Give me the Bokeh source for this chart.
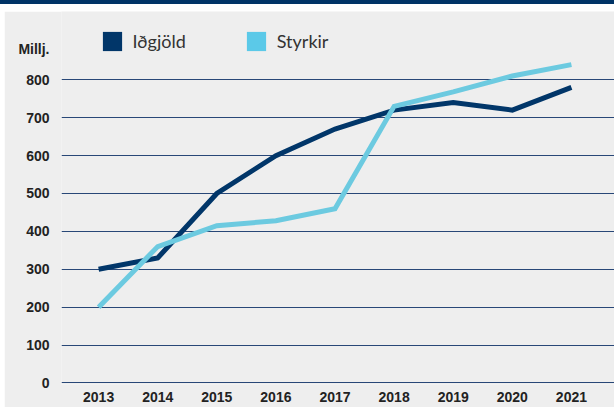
from bokeh.plotting import figure
from bokeh.models import Range1d, FixedTicker, Legend, LegendItem, Div, Spacer
from bokeh.layouts import column, row
from bokeh.embed import file_html
from bokeh.resources import INLINE

years = [2013, 2014, 2015, 2016, 2017, 2018, 2019, 2020, 2021]
idgjold = [300, 330, 500, 600, 670, 720, 740, 720, 780]
styrkir = [200, 360, 415, 428, 460, 730, 768, 810, 840]
y_ticks = [0, 100, 200, 300, 400, 500, 600, 700, 800]
unit_label = "Millj."
unit_pos = 882
series_names = ["Iðgjöld", "Styrkir"]

NAVY = "#013669"
LIGHT_LINE = "#6ccae0"
LIGHT_KEY = "#5bc9e8"
BG = "#eeeeee"

p = figure(width=610, height=396, output_backend="svg", toolbar_location=None,
           x_range=Range1d(2012.372, 2021.729), y_range=Range1d(-3.96, 980.2),
           background_fill_color=BG, border_fill_color=BG,
           min_border_left=57, min_border_right=0, min_border_top=0, min_border_bottom=23)
p.outline_line_color = None

# axes
p.xaxis.ticker = FixedTicker(ticks=years)
p.yaxis.ticker = FixedTicker(ticks=y_ticks + [unit_pos])
p.yaxis.major_label_overrides = {unit_pos: unit_label}
for ax in (p.xaxis[0], p.yaxis[0]):
    ax.axis_line_color = None
    ax.major_tick_line_color = None
    ax.minor_tick_line_color = None
    ax.major_tick_out = 0
    ax.major_tick_in = 0
    ax.major_label_text_font = "Liberation Sans"
    ax.major_label_text_font_style = "bold"
    ax.major_label_text_font_size = "14px"
    ax.major_label_text_color = "#222222"
p.xaxis.major_label_standoff = 7
p.yaxis.major_label_standoff = 12

p.xgrid.grid_line_color = None
p.ygrid.ticker = FixedTicker(ticks=y_ticks)
p.ygrid.grid_line_color = "#284777"
p.ygrid.grid_line_width = 1.2

# lines
p.line(years, idgjold, line_color=NAVY, line_width=5, line_join="miter")
p.line(years, styrkir, line_color=LIGHT_LINE, line_width=5, line_join="miter")

# legend keys (square swatches, no visible data)
nan = [float("nan")]
k1 = p.quad(left=nan, right=nan, top=nan, bottom=nan, fill_color=NAVY, line_alpha=0)
k2 = p.quad(left=nan, right=nan, top=nan, bottom=nan, fill_color=LIGHT_KEY, line_alpha=0)
legend = Legend(items=[LegendItem(label=series_names[0], renderers=[k1]),
                       LegendItem(label=series_names[1], renderers=[k2])],
                orientation="horizontal", location=(38.6, 331),
                glyph_width=24, glyph_height=24, label_height=24,
                label_standoff=9, spacing=58, padding=0, margin=0,
                background_fill_alpha=0, border_line_alpha=0,
                label_text_font="Lato", label_text_font_size="18px",
                label_text_color="#333333")
p.add_layout(legend)

top_bar = Div(text="", width=614, height=4, margin=0,
              styles={"background-color": "#003366"})
layout = column(top_bar, Spacer(width=614, height=7, margin=0),
                row(Spacer(width=4, height=396, margin=0), p))

open("out.html", "w").write(file_html(layout, INLINE))
